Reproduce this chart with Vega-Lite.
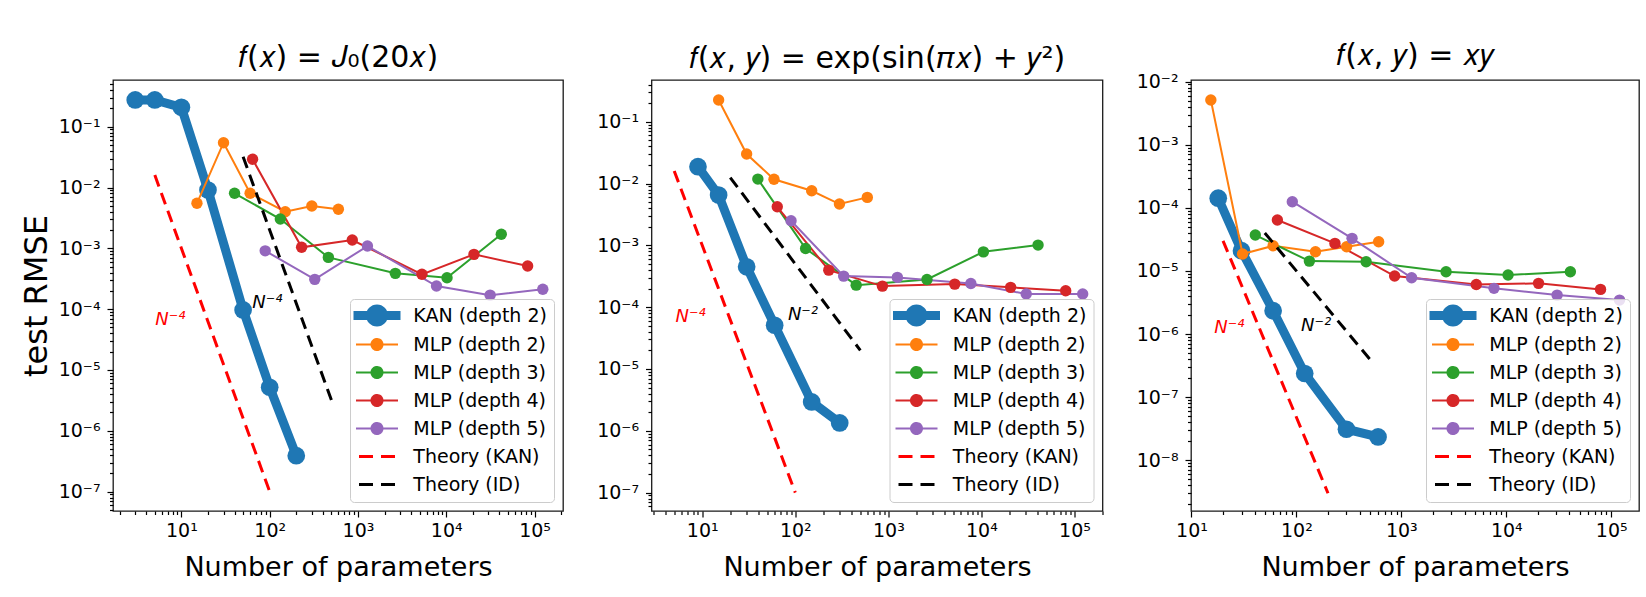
{
  "$schema": "https://vega.github.io/schema/vega-lite/v6.json",
  "autosize": {"type": "none"},
  "padding": {"left": 113, "top": 80, "right": 1533, "bottom": 517},
  "background": "white",
  "bounds": "flush",
  "spacing": 88.5,
  "datasets": {
    "runs": [
      {"p":1,"s":"KAN (depth 2)","n":3,"e":0.275},{"p":1,"s":"KAN (depth 2)","n":5,"e":0.275},{"p":1,"s":"KAN (depth 2)","n":10,"e":0.208},{"p":1,"s":"KAN (depth 2)","n":20,"e":0.0091},{"p":1,"s":"KAN (depth 2)","n":50,"e":9.7e-5},{"p":1,"s":"KAN (depth 2)","n":100,"e":5.2e-6},{"p":1,"s":"KAN (depth 2)","n":200,"e":3.9e-7},
      {"p":1,"s":"MLP (depth 2)","n":15,"e":0.0055},{"p":1,"s":"MLP (depth 2)","n":30,"e":0.0546},{"p":1,"s":"MLP (depth 2)","n":60,"e":0.00803},{"p":1,"s":"MLP (depth 2)","n":150,"e":0.004},{"p":1,"s":"MLP (depth 2)","n":300,"e":0.00497},{"p":1,"s":"MLP (depth 2)","n":600,"e":0.00438},
      {"p":1,"s":"MLP (depth 3)","n":40,"e":0.00803},{"p":1,"s":"MLP (depth 3)","n":132,"e":0.00303},{"p":1,"s":"MLP (depth 3)","n":462,"e":0.00071},{"p":1,"s":"MLP (depth 3)","n":2650,"e":0.000388},{"p":1,"s":"MLP (depth 3)","n":10200,"e":0.000328},{"p":1,"s":"MLP (depth 3)","n":42000,"e":0.0017},
      {"p":1,"s":"MLP (depth 4)","n":64,"e":0.0291},{"p":1,"s":"MLP (depth 4)","n":230,"e":0.00104},{"p":1,"s":"MLP (depth 4)","n":862,"e":0.00137},{"p":1,"s":"MLP (depth 4)","n":5300,"e":0.000374},{"p":1,"s":"MLP (depth 4)","n":20600,"e":0.000796},{"p":1,"s":"MLP (depth 4)","n":83500,"e":0.000512},
      {"p":1,"s":"MLP (depth 5)","n":89,"e":0.00091},{"p":1,"s":"MLP (depth 5)","n":324,"e":0.000309},{"p":1,"s":"MLP (depth 5)","n":1280,"e":0.00109},{"p":1,"s":"MLP (depth 5)","n":7750,"e":0.00024},{"p":1,"s":"MLP (depth 5)","n":31400,"e":0.00017},{"p":1,"s":"MLP (depth 5)","n":124000,"e":0.000212},
      {"p":1,"s":"Theory (KAN)","n":5,"e":0.016},{"p":1,"s":"Theory (KAN)","n":100,"e":1e-7},
      {"p":1,"s":"Theory (ID)","n":50,"e":0.032},{"p":1,"s":"Theory (ID)","n":500,"e":3.2e-6},

      {"p":2,"s":"KAN (depth 2)","n":9,"e":0.0187},{"p":2,"s":"KAN (depth 2)","n":15,"e":0.0065},{"p":2,"s":"KAN (depth 2)","n":30,"e":0.00045},{"p":2,"s":"KAN (depth 2)","n":60,"e":5.1e-5},{"p":2,"s":"KAN (depth 2)","n":150,"e":2.93e-6},{"p":2,"s":"KAN (depth 2)","n":300,"e":1.34e-6},
      {"p":2,"s":"MLP (depth 2)","n":15,"e":0.224},{"p":2,"s":"MLP (depth 2)","n":30,"e":0.03},{"p":2,"s":"MLP (depth 2)","n":59,"e":0.0117},{"p":2,"s":"MLP (depth 2)","n":150,"e":0.00764},{"p":2,"s":"MLP (depth 2)","n":298,"e":0.00466},{"p":2,"s":"MLP (depth 2)","n":594,"e":0.00597},
      {"p":2,"s":"MLP (depth 3)","n":39.6,"e":0.0118},{"p":2,"s":"MLP (depth 3)","n":129,"e":0.00089},{"p":2,"s":"MLP (depth 3)","n":451,"e":0.000227},{"p":2,"s":"MLP (depth 3)","n":2600,"e":0.000281},{"p":2,"s":"MLP (depth 3)","n":10500,"e":0.000785},{"p":2,"s":"MLP (depth 3)","n":40600,"e":0.00101},
      {"p":2,"s":"MLP (depth 4)","n":64,"e":0.0042},{"p":2,"s":"MLP (depth 4)","n":229,"e":0.000397},{"p":2,"s":"MLP (depth 4)","n":863,"e":0.000219},{"p":2,"s":"MLP (depth 4)","n":5170,"e":0.000236},{"p":2,"s":"MLP (depth 4)","n":20600,"e":0.000209},{"p":2,"s":"MLP (depth 4)","n":80500,"e":0.000184},
      {"p":2,"s":"MLP (depth 5)","n":90,"e":0.0025},{"p":2,"s":"MLP (depth 5)","n":331,"e":0.000318},{"p":2,"s":"MLP (depth 5)","n":1250,"e":0.000303},{"p":2,"s":"MLP (depth 5)","n":7700,"e":0.000242},{"p":2,"s":"MLP (depth 5)","n":30300,"e":0.000163},{"p":2,"s":"MLP (depth 5)","n":122500,"e":0.000163},
      {"p":2,"s":"Theory (KAN)","n":5,"e":0.016},{"p":2,"s":"Theory (KAN)","n":100,"e":1e-7},
      {"p":2,"s":"Theory (ID)","n":20,"e":0.0125},{"p":2,"s":"Theory (ID)","n":500,"e":2e-5},

      {"p":3,"s":"KAN (depth 2)","n":18,"e":0.000142},{"p":3,"s":"KAN (depth 2)","n":30,"e":2.09e-5},{"p":3,"s":"KAN (depth 2)","n":60,"e":2.34e-6},{"p":3,"s":"KAN (depth 2)","n":120,"e":2.37e-7},{"p":3,"s":"KAN (depth 2)","n":300,"e":3.1e-8},{"p":3,"s":"KAN (depth 2)","n":600,"e":2.34e-8},
      {"p":3,"s":"MLP (depth 2)","n":15.3,"e":0.0051},{"p":3,"s":"MLP (depth 2)","n":30.7,"e":1.85e-5},{"p":3,"s":"MLP (depth 2)","n":60,"e":2.5e-5},{"p":3,"s":"MLP (depth 2)","n":152,"e":2.01e-5},{"p":3,"s":"MLP (depth 2)","n":301,"e":2.42e-5},{"p":3,"s":"MLP (depth 2)","n":608,"e":2.9e-5},
      {"p":3,"s":"MLP (depth 3)","n":40.6,"e":3.7e-5},{"p":3,"s":"MLP (depth 3)","n":133,"e":1.43e-5},{"p":3,"s":"MLP (depth 3)","n":462,"e":1.4e-5},{"p":3,"s":"MLP (depth 3)","n":2670,"e":9.7e-6},{"p":3,"s":"MLP (depth 3)","n":10400,"e":8.6e-6},{"p":3,"s":"MLP (depth 3)","n":40800,"e":9.7e-6},
      {"p":3,"s":"MLP (depth 4)","n":65.9,"e":6.4e-5},{"p":3,"s":"MLP (depth 4)","n":233,"e":2.73e-5},{"p":3,"s":"MLP (depth 4)","n":863,"e":8.3e-6},{"p":3,"s":"MLP (depth 4)","n":5180,"e":6.1e-6},{"p":3,"s":"MLP (depth 4)","n":20300,"e":6.35e-6},{"p":3,"s":"MLP (depth 4)","n":79100,"e":5.1e-6},
      {"p":3,"s":"MLP (depth 5)","n":91.4,"e":0.000125},{"p":3,"s":"MLP (depth 5)","n":339,"e":3.28e-5},{"p":3,"s":"MLP (depth 5)","n":1253,"e":7.8e-6},{"p":3,"s":"MLP (depth 5)","n":7640,"e":5.3e-6},{"p":3,"s":"MLP (depth 5)","n":30500,"e":4.14e-6},{"p":3,"s":"MLP (depth 5)","n":120000,"e":3.45e-6},
      {"p":3,"s":"Theory (KAN)","n":20,"e":3e-5},{"p":3,"s":"Theory (KAN)","n":200,"e":3e-9},
      {"p":3,"s":"Theory (ID)","n":50,"e":4e-5},{"p":3,"s":"Theory (ID)","n":500,"e":4e-7}
    ],
    "notes": [
      {"p":1,"k":"KAN","t":"N⁻⁴","n":7.5,"e":6.6e-5},
      {"p":1,"k":"ID","t":"N⁻⁴","n":94,"e":0.000126},
      {"p":2,"k":"KAN","t":"N⁻⁴","n":7.5,"e":7e-5},
      {"p":2,"k":"ID","t":"N⁻²","n":121,"e":7.4e-5},
      {"p":3,"k":"KAN","t":"N⁻⁴","n":23,"e":1.24e-6},
      {"p":3,"k":"ID","t":"N⁻²","n":154,"e":1.36e-6}
    ]
  },
  "hconcat": [
    {
      "width": 450, "height": 431,
      "title": {"text": "𝑓(𝑥) = 𝐽₀(20𝑥)"},
      "encoding": {
        "x": {"field": "n", "type": "quantitative", "title": "Number of parameters",
              "scale": {"type": "log", "domain": [1.68, 210000], "nice": false},
              "axis": {"tickCount": 60, "labelFlush": false, "labelOverlap": false, "labelPadding": 4, "titlePadding": 14,
                       "labelExpr": "abs(log(datum.value)/LN10-round(log(datum.value)/LN10))<0.01 ? '10'+(round(log(datum.value)/LN10)<0?'⁻':'')+['⁰','¹','²','³','⁴','⁵','⁶','⁷','⁸','⁹'][abs(round(log(datum.value)/LN10))] : ''",
                       "tickSize": {"condition": {"test": "abs(log(datum.value)/LN10-round(log(datum.value)/LN10))<0.01", "value": 6}, "value": 3.5}}},
        "y": {"field": "e", "type": "quantitative", "title": "test RMSE",
              "scale": {"type": "log", "domain": [4.8e-8, 0.586], "nice": false},
              "axis": {"tickCount": 60, "labelOverlap": false, "labelPadding": 7, "titlePadding": 5, "titleFontSize": 32,
                       "labelExpr": "abs(log(datum.value)/LN10-round(log(datum.value)/LN10))<0.01 ? '10'+(round(log(datum.value)/LN10)<0?'⁻':'')+['⁰','¹','²','³','⁴','⁵','⁶','⁷','⁸','⁹'][abs(round(log(datum.value)/LN10))] : ''",
                       "tickSize": {"condition": {"test": "abs(log(datum.value)/LN10-round(log(datum.value)/LN10))<0.01", "value": 6}, "value": 3.5}}}
      },
      "layer": [
        {"data": {"name": "notes"}, "transform": [{"filter": "datum.p == 1 && datum.k == 'KAN'"}],
         "mark": {"type": "text", "font": "DejaVu Sans", "fontStyle": "italic", "fontSize": 18, "color": "#ff0000"},
         "encoding": {"text": {"field": "t"}}},
        {"data": {"name": "notes"}, "transform": [{"filter": "datum.p == 1 && datum.k == 'ID'"}],
         "mark": {"type": "text", "font": "DejaVu Sans", "fontStyle": "italic", "fontSize": 18, "color": "#000000"},
         "encoding": {"text": {"field": "t"}}},
        {"data": {"name": "runs"}, "transform": [{"filter": "datum.p == 1 && datum.s == 'KAN (depth 2)'"}],
         "mark": {"type": "line", "strokeWidth": 9},
         "encoding": {"color": {"field": "s", "type": "nominal", "legend": null, "scale": {"domain": ["Theory (ID)","Theory (KAN)","MLP (depth 5)","MLP (depth 4)","MLP (depth 3)","MLP (depth 2)","KAN (depth 2)"], "range": ["#000000","#ff0000","#9467bd","#d62728","#2ca02c","#ff7f0e","#1f77b4"]}}}},
        {"data": {"name": "runs"}, "transform": [{"filter": "datum.p == 1 && datum.s == 'KAN (depth 2)'"}],
         "mark": {"type": "point", "filled": true, "size": 314, "opacity": 1},
         "encoding": {"color": {"field": "s", "type": "nominal", "legend": null}}},
        {"data": {"name": "runs"}, "transform": [{"filter": "datum.p == 1 && indexof(datum.s, 'MLP') == 0"}],
         "mark": {"type": "line", "strokeWidth": 2},
         "encoding": {"color": {"field": "s", "type": "nominal", "legend": null}}},
        {"data": {"name": "runs"}, "transform": [{"filter": "datum.p == 1 && indexof(datum.s, 'MLP') == 0"}],
         "mark": {"type": "point", "filled": true, "size": 130, "opacity": 1},
         "encoding": {"color": {"field": "s", "type": "nominal", "legend": null}}},
        {"data": {"name": "runs"}, "transform": [{"filter": "datum.p == 1 && indexof(datum.s, 'Theory') == 0"}],
         "mark": {"type": "line", "strokeWidth": 3, "strokeDash": [12, 7]},
         "encoding": {"color": {"field": "s", "type": "nominal", "legend": null}}},
        {"data": {"name": "runs"}, "transform": [{"filter": "false"}],
         "mark": {"type": "point", "filled": true, "opacity": 1},
         "encoding": {
           "fill": {"field": "s", "type": "nominal", "legend": {"title": null}, "scale": {"domain": ["KAN (depth 2)","MLP (depth 2)","MLP (depth 3)","MLP (depth 4)","MLP (depth 5)","Theory (KAN)","Theory (ID)"], "range": ["#1f77b4","#ff7f0e","#2ca02c","#d62728","#9467bd","#ff0000","#000000"]}},
           "stroke": {"field": "s", "type": "nominal", "legend": {"title": null}, "scale": {"domain": ["KAN (depth 2)","MLP (depth 2)","MLP (depth 3)","MLP (depth 4)","MLP (depth 5)","Theory (KAN)","Theory (ID)"], "range": ["#1f77b4","#ff7f0e","#2ca02c","#d62728","#9467bd","#ff0000","#000000"]}},
           "shape": {"field": "s", "type": "nominal", "legend": {"title": null}, "scale": {"domain": ["KAN (depth 2)","MLP (depth 2)","MLP (depth 3)","MLP (depth 4)","MLP (depth 5)","Theory (KAN)","Theory (ID)"], "range": ["M-4.7,-0.9L4.7,-0.9L4.7,0.9L-4.7,0.9ZM2.2,0A2.2,2.2,0,1,1,-2.2,0A2.2,2.2,0,1,1,2.2,0Z","M-4.2,0L4.2,0M1.1,0A1.1,1.1,0,1,1,-1.1,0A1.1,1.1,0,1,1,1.1,0Z","M-4.2,0L4.2,0M1.1,0A1.1,1.1,0,1,1,-1.1,0A1.1,1.1,0,1,1,1.1,0Z","M-4.2,0L4.2,0M1.1,0A1.1,1.1,0,1,1,-1.1,0A1.1,1.1,0,1,1,1.1,0Z","M-4.2,0L4.2,0M1.1,0A1.1,1.1,0,1,1,-1.1,0A1.1,1.1,0,1,1,1.1,0Z","M-3.6,0L3.6,0","M-3.6,0L3.6,0"]}},
           "strokeDash": {"field": "s", "type": "nominal", "legend": {"title": null}, "scale": {"domain": ["KAN (depth 2)","MLP (depth 2)","MLP (depth 3)","MLP (depth 4)","MLP (depth 5)","Theory (KAN)","Theory (ID)"], "range": [[1,0],[1,0],[1,0],[1,0],[1,0],[14,8],[14,8]]}},
           "strokeWidth": {"field": "s", "type": "nominal", "legend": {"title": null}, "scale": {"type": "ordinal", "domain": ["KAN (depth 2)","MLP (depth 2)","MLP (depth 3)","MLP (depth 4)","MLP (depth 5)","Theory (KAN)","Theory (ID)"], "range": [0,2,2,2,2,3,3]}}
         }}
      ]
    },
    {
      "width": 451, "height": 431,
      "title": {"text": "𝑓(𝑥, 𝑦) = exp(sin(𝜋𝑥) + 𝑦²)"},
      "encoding": {
        "x": {"field": "n", "type": "quantitative", "title": "Number of parameters",
              "scale": {"type": "log", "domain": [2.85, 200000], "nice": false},
              "axis": {"tickCount": 60, "labelFlush": false, "labelOverlap": false, "labelPadding": 4, "titlePadding": 14,
                       "labelExpr": "abs(log(datum.value)/LN10-round(log(datum.value)/LN10))<0.01 ? '10'+(round(log(datum.value)/LN10)<0?'⁻':'')+['⁰','¹','²','³','⁴','⁵','⁶','⁷','⁸','⁹'][abs(round(log(datum.value)/LN10))] : ''",
                       "tickSize": {"condition": {"test": "abs(log(datum.value)/LN10-round(log(datum.value)/LN10))<0.01", "value": 6}, "value": 3.5}}},
        "y": {"field": "e", "type": "quantitative", "title": null,
              "scale": {"type": "log", "domain": [5.04e-8, 0.473], "nice": false},
              "axis": {"tickCount": 60, "labelOverlap": false, "labelPadding": 7,
                       "labelExpr": "abs(log(datum.value)/LN10-round(log(datum.value)/LN10))<0.01 ? '10'+(round(log(datum.value)/LN10)<0?'⁻':'')+['⁰','¹','²','³','⁴','⁵','⁶','⁷','⁸','⁹'][abs(round(log(datum.value)/LN10))] : ''",
                       "tickSize": {"condition": {"test": "abs(log(datum.value)/LN10-round(log(datum.value)/LN10))<0.01", "value": 6}, "value": 3.5}}}
      },
      "layer": [
        {"data": {"name": "notes"}, "transform": [{"filter": "datum.p == 2 && datum.k == 'KAN'"}],
         "mark": {"type": "text", "font": "DejaVu Sans", "fontStyle": "italic", "fontSize": 18, "color": "#ff0000"},
         "encoding": {"text": {"field": "t"}}},
        {"data": {"name": "notes"}, "transform": [{"filter": "datum.p == 2 && datum.k == 'ID'"}],
         "mark": {"type": "text", "font": "DejaVu Sans", "fontStyle": "italic", "fontSize": 18, "color": "#000000"},
         "encoding": {"text": {"field": "t"}}},
        {"data": {"name": "runs"}, "transform": [{"filter": "datum.p == 2 && datum.s == 'KAN (depth 2)'"}],
         "mark": {"type": "line", "strokeWidth": 9},
         "encoding": {"color": {"field": "s", "type": "nominal", "legend": null, "scale": {"domain": ["Theory (ID)","Theory (KAN)","MLP (depth 5)","MLP (depth 4)","MLP (depth 3)","MLP (depth 2)","KAN (depth 2)"], "range": ["#000000","#ff0000","#9467bd","#d62728","#2ca02c","#ff7f0e","#1f77b4"]}}}},
        {"data": {"name": "runs"}, "transform": [{"filter": "datum.p == 2 && datum.s == 'KAN (depth 2)'"}],
         "mark": {"type": "point", "filled": true, "size": 314, "opacity": 1},
         "encoding": {"color": {"field": "s", "type": "nominal", "legend": null}}},
        {"data": {"name": "runs"}, "transform": [{"filter": "datum.p == 2 && indexof(datum.s, 'MLP') == 0"}],
         "mark": {"type": "line", "strokeWidth": 2},
         "encoding": {"color": {"field": "s", "type": "nominal", "legend": null}}},
        {"data": {"name": "runs"}, "transform": [{"filter": "datum.p == 2 && indexof(datum.s, 'MLP') == 0"}],
         "mark": {"type": "point", "filled": true, "size": 130, "opacity": 1},
         "encoding": {"color": {"field": "s", "type": "nominal", "legend": null}}},
        {"data": {"name": "runs"}, "transform": [{"filter": "datum.p == 2 && indexof(datum.s, 'Theory') == 0"}],
         "mark": {"type": "line", "strokeWidth": 3, "strokeDash": [12, 7]},
         "encoding": {"color": {"field": "s", "type": "nominal", "legend": null}}},
        {"data": {"name": "runs"}, "transform": [{"filter": "false"}],
         "mark": {"type": "point", "filled": true, "opacity": 1},
         "encoding": {
           "fill": {"field": "s", "type": "nominal", "legend": {"title": null}, "scale": {"domain": ["KAN (depth 2)","MLP (depth 2)","MLP (depth 3)","MLP (depth 4)","MLP (depth 5)","Theory (KAN)","Theory (ID)"], "range": ["#1f77b4","#ff7f0e","#2ca02c","#d62728","#9467bd","#ff0000","#000000"]}},
           "stroke": {"field": "s", "type": "nominal", "legend": {"title": null}, "scale": {"domain": ["KAN (depth 2)","MLP (depth 2)","MLP (depth 3)","MLP (depth 4)","MLP (depth 5)","Theory (KAN)","Theory (ID)"], "range": ["#1f77b4","#ff7f0e","#2ca02c","#d62728","#9467bd","#ff0000","#000000"]}},
           "shape": {"field": "s", "type": "nominal", "legend": {"title": null}, "scale": {"domain": ["KAN (depth 2)","MLP (depth 2)","MLP (depth 3)","MLP (depth 4)","MLP (depth 5)","Theory (KAN)","Theory (ID)"], "range": ["M-4.7,-0.9L4.7,-0.9L4.7,0.9L-4.7,0.9ZM2.2,0A2.2,2.2,0,1,1,-2.2,0A2.2,2.2,0,1,1,2.2,0Z","M-4.2,0L4.2,0M1.1,0A1.1,1.1,0,1,1,-1.1,0A1.1,1.1,0,1,1,1.1,0Z","M-4.2,0L4.2,0M1.1,0A1.1,1.1,0,1,1,-1.1,0A1.1,1.1,0,1,1,1.1,0Z","M-4.2,0L4.2,0M1.1,0A1.1,1.1,0,1,1,-1.1,0A1.1,1.1,0,1,1,1.1,0Z","M-4.2,0L4.2,0M1.1,0A1.1,1.1,0,1,1,-1.1,0A1.1,1.1,0,1,1,1.1,0Z","M-3.6,0L3.6,0","M-3.6,0L3.6,0"]}},
           "strokeDash": {"field": "s", "type": "nominal", "legend": {"title": null}, "scale": {"domain": ["KAN (depth 2)","MLP (depth 2)","MLP (depth 3)","MLP (depth 4)","MLP (depth 5)","Theory (KAN)","Theory (ID)"], "range": [[1,0],[1,0],[1,0],[1,0],[1,0],[14,8],[14,8]]}},
           "strokeWidth": {"field": "s", "type": "nominal", "legend": {"title": null}, "scale": {"type": "ordinal", "domain": ["KAN (depth 2)","MLP (depth 2)","MLP (depth 3)","MLP (depth 4)","MLP (depth 5)","Theory (KAN)","Theory (ID)"], "range": [0,2,2,2,2,3,3]}}
         }}
      ]
    },
    {
      "width": 448, "height": 431,
      "title": {"text": "𝑓(𝑥, 𝑦) = 𝑥𝑦"},
      "encoding": {
        "x": {"field": "n", "type": "quantitative", "title": "Number of parameters",
              "scale": {"type": "log", "domain": [9.9, 184000], "nice": false},
              "axis": {"tickCount": 60, "labelFlush": false, "labelOverlap": false, "labelPadding": 4, "titlePadding": 14,
                       "labelExpr": "abs(log(datum.value)/LN10-round(log(datum.value)/LN10))<0.01 ? '10'+(round(log(datum.value)/LN10)<0?'⁻':'')+['⁰','¹','²','³','⁴','⁵','⁶','⁷','⁸','⁹'][abs(round(log(datum.value)/LN10))] : ''",
                       "tickSize": {"condition": {"test": "abs(log(datum.value)/LN10-round(log(datum.value)/LN10))<0.01", "value": 6}, "value": 3.5}}},
        "y": {"field": "e", "type": "quantitative", "title": null,
              "scale": {"type": "log", "domain": [1.57e-9, 0.0106], "nice": false},
              "axis": {"tickCount": 60, "labelOverlap": false, "labelPadding": 7,
                       "labelExpr": "abs(log(datum.value)/LN10-round(log(datum.value)/LN10))<0.01 ? '10'+(round(log(datum.value)/LN10)<0?'⁻':'')+['⁰','¹','²','³','⁴','⁵','⁶','⁷','⁸','⁹'][abs(round(log(datum.value)/LN10))] : ''",
                       "tickSize": {"condition": {"test": "abs(log(datum.value)/LN10-round(log(datum.value)/LN10))<0.01", "value": 6}, "value": 3.5}}}
      },
      "layer": [
        {"data": {"name": "notes"}, "transform": [{"filter": "datum.p == 3 && datum.k == 'KAN'"}],
         "mark": {"type": "text", "font": "DejaVu Sans", "fontStyle": "italic", "fontSize": 18, "color": "#ff0000"},
         "encoding": {"text": {"field": "t"}}},
        {"data": {"name": "notes"}, "transform": [{"filter": "datum.p == 3 && datum.k == 'ID'"}],
         "mark": {"type": "text", "font": "DejaVu Sans", "fontStyle": "italic", "fontSize": 18, "color": "#000000"},
         "encoding": {"text": {"field": "t"}}},
        {"data": {"name": "runs"}, "transform": [{"filter": "datum.p == 3 && datum.s == 'KAN (depth 2)'"}],
         "mark": {"type": "line", "strokeWidth": 9},
         "encoding": {"color": {"field": "s", "type": "nominal", "legend": null, "scale": {"domain": ["Theory (ID)","Theory (KAN)","MLP (depth 5)","MLP (depth 4)","MLP (depth 3)","MLP (depth 2)","KAN (depth 2)"], "range": ["#000000","#ff0000","#9467bd","#d62728","#2ca02c","#ff7f0e","#1f77b4"]}}}},
        {"data": {"name": "runs"}, "transform": [{"filter": "datum.p == 3 && datum.s == 'KAN (depth 2)'"}],
         "mark": {"type": "point", "filled": true, "size": 314, "opacity": 1},
         "encoding": {"color": {"field": "s", "type": "nominal", "legend": null}}},
        {"data": {"name": "runs"}, "transform": [{"filter": "datum.p == 3 && indexof(datum.s, 'MLP') == 0"}],
         "mark": {"type": "line", "strokeWidth": 2},
         "encoding": {"color": {"field": "s", "type": "nominal", "legend": null}}},
        {"data": {"name": "runs"}, "transform": [{"filter": "datum.p == 3 && indexof(datum.s, 'MLP') == 0"}],
         "mark": {"type": "point", "filled": true, "size": 130, "opacity": 1},
         "encoding": {"color": {"field": "s", "type": "nominal", "legend": null}}},
        {"data": {"name": "runs"}, "transform": [{"filter": "datum.p == 3 && indexof(datum.s, 'Theory') == 0"}],
         "mark": {"type": "line", "strokeWidth": 3, "strokeDash": [12, 7]},
         "encoding": {"color": {"field": "s", "type": "nominal", "legend": null}}},
        {"data": {"name": "runs"}, "transform": [{"filter": "false"}],
         "mark": {"type": "point", "filled": true, "opacity": 1},
         "encoding": {
           "fill": {"field": "s", "type": "nominal", "legend": {"title": null}, "scale": {"domain": ["KAN (depth 2)","MLP (depth 2)","MLP (depth 3)","MLP (depth 4)","MLP (depth 5)","Theory (KAN)","Theory (ID)"], "range": ["#1f77b4","#ff7f0e","#2ca02c","#d62728","#9467bd","#ff0000","#000000"]}},
           "stroke": {"field": "s", "type": "nominal", "legend": {"title": null}, "scale": {"domain": ["KAN (depth 2)","MLP (depth 2)","MLP (depth 3)","MLP (depth 4)","MLP (depth 5)","Theory (KAN)","Theory (ID)"], "range": ["#1f77b4","#ff7f0e","#2ca02c","#d62728","#9467bd","#ff0000","#000000"]}},
           "shape": {"field": "s", "type": "nominal", "legend": {"title": null}, "scale": {"domain": ["KAN (depth 2)","MLP (depth 2)","MLP (depth 3)","MLP (depth 4)","MLP (depth 5)","Theory (KAN)","Theory (ID)"], "range": ["M-4.7,-0.9L4.7,-0.9L4.7,0.9L-4.7,0.9ZM2.2,0A2.2,2.2,0,1,1,-2.2,0A2.2,2.2,0,1,1,2.2,0Z","M-4.2,0L4.2,0M1.1,0A1.1,1.1,0,1,1,-1.1,0A1.1,1.1,0,1,1,1.1,0Z","M-4.2,0L4.2,0M1.1,0A1.1,1.1,0,1,1,-1.1,0A1.1,1.1,0,1,1,1.1,0Z","M-4.2,0L4.2,0M1.1,0A1.1,1.1,0,1,1,-1.1,0A1.1,1.1,0,1,1,1.1,0Z","M-4.2,0L4.2,0M1.1,0A1.1,1.1,0,1,1,-1.1,0A1.1,1.1,0,1,1,1.1,0Z","M-3.6,0L3.6,0","M-3.6,0L3.6,0"]}},
           "strokeDash": {"field": "s", "type": "nominal", "legend": {"title": null}, "scale": {"domain": ["KAN (depth 2)","MLP (depth 2)","MLP (depth 3)","MLP (depth 4)","MLP (depth 5)","Theory (KAN)","Theory (ID)"], "range": [[1,0],[1,0],[1,0],[1,0],[1,0],[14,8],[14,8]]}},
           "strokeWidth": {"field": "s", "type": "nominal", "legend": {"title": null}, "scale": {"type": "ordinal", "domain": ["KAN (depth 2)","MLP (depth 2)","MLP (depth 3)","MLP (depth 4)","MLP (depth 5)","Theory (KAN)","Theory (ID)"], "range": [0,2,2,2,2,3,3]}}
         }}
      ]
    }
  ],
  "resolve": {
    "scale": {"color": "independent", "fill": "independent", "stroke": "independent", "shape": "independent", "strokeDash": "independent", "strokeWidth": "independent"},
    "legend": {"color": "independent", "fill": "independent", "stroke": "independent", "shape": "independent", "strokeDash": "independent", "strokeWidth": "independent"}
  },
  "config": {
    "view": {"stroke": "#1a1a1a", "strokeWidth": 1.3},
    "axis": {"grid": false, "domain": false, "labelFont": "DejaVu Sans", "labelFontSize": 19, "labelColor": "#000000", "tickColor": "#000000", "tickWidth": 1.2, "titleFont": "DejaVu Sans", "titleFontSize": 27, "titleFontWeight": "normal", "titleColor": "#000000"},
    "legend": {"orient": "bottom-right", "offset": 9.5, "padding": 7, "cornerRadius": 4, "fillColor": "rgba(255,255,255,0.8)", "strokeColor": "#cccccc", "labelFont": "DejaVu Sans", "labelFontSize": 19, "labelColor": "#000000", "labelLimit": 300, "symbolSize": 100, "symbolOffset": 10.5, "labelOffset": 26.8, "rowPadding": 8, "symbolOpacity": 1},
    "title": {"font": "DejaVu Sans", "fontSize": 30, "fontWeight": "normal", "color": "#000000", "baseline": "alphabetic", "offset": 2, "frame": "group", "anchor": "middle"}
  }
}
